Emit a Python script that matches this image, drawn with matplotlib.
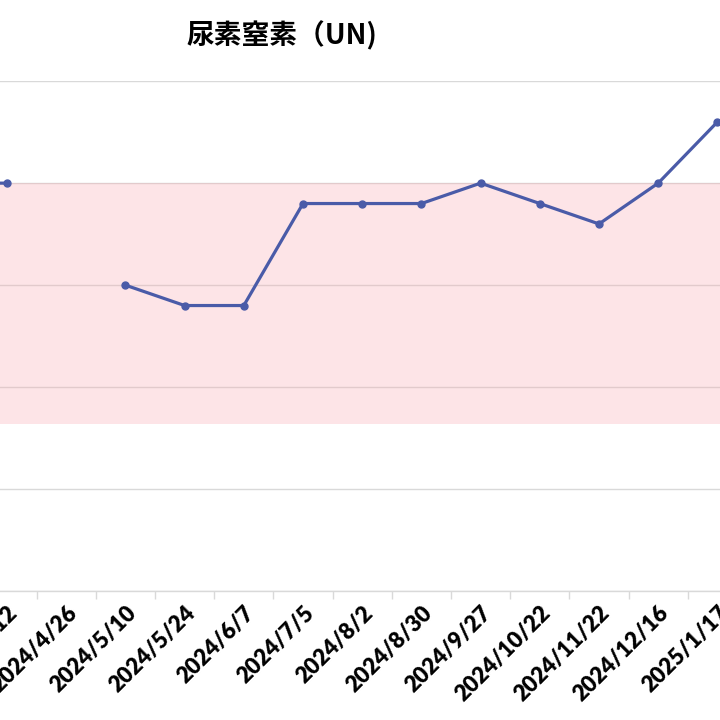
import numpy as np
import matplotlib.pyplot as plt
from matplotlib.ticker import FixedLocator

# data (mg/dL); first category lies outside the crop
dates = ['2024/3/29', '2024/4/12', '2024/4/26', '2024/5/10', '2024/5/24',
         '2024/6/7', '2024/7/5', '2024/8/2', '2024/8/30', '2024/9/27',
         '2024/10/22', '2024/11/22', '2024/12/16', '2025/1/17']
un_vals = [20, 20, np.nan, 15, 14, 14, 19, 19, 19, 20, 19, 18, 20, 23]
normal_low, normal_high = 8.2, 20
y_ticks = [0, 5, 10, 15, 20, 25]

plt.rcParams['font.family'] = ['Lato', 'Noto Sans CJK JP', 'DejaVu Sans']

fig = plt.figure(figsize=(7.2, 7.2), dpi=100)
# plot area is wider than the picture: the chart was cropped on both sides
ax = fig.add_axes([-0.1136, 0.179, 1.1511, 0.7083])

x = np.arange(len(dates))
ax.set_xlim(-0.5, 13.5)
ax.set_ylim(0, 25)

ax.set_yticks(y_ticks)
ax.yaxis.grid(True, color='#D9D9D9', linewidth=1.0, zorder=1)
ax.axhspan(normal_low, normal_high, color='#F9A8B0', alpha=0.3, lw=0, zorder=2)

ax.plot(x, un_vals, color='#4A5BA8', linewidth=2.3, marker='o', markersize=5, zorder=3)

for side in ['top', 'left', 'right']:
    ax.spines[side].set_visible(False)
ax.spines['bottom'].set_color('#D9D9D9')
ax.spines['bottom'].set_linewidth(1.0)
ax.tick_params(axis='y', left=False, labelleft=False)

ax.set_xticks(x)
ax.set_xticklabels(dates, rotation=45, ha='right', va='top', rotation_mode='anchor',
                   fontsize=16, fontweight='heavy')
ax.tick_params(axis='x', which='major', length=0, pad=8)
ax.xaxis.set_minor_locator(FixedLocator(np.arange(-0.5, 14, 1.0)))
ax.tick_params(axis='x', which='minor', length=6, color='#D9D9D9', width=1.0)

fig.text(0.392, 0.951, '尿素窒素（UN)', ha='center', va='center',
         fontsize=20, fontweight='bold', family=['Noto Sans CJK JP', 'DejaVu Sans'])

fig.savefig('out.png', dpi=100)
